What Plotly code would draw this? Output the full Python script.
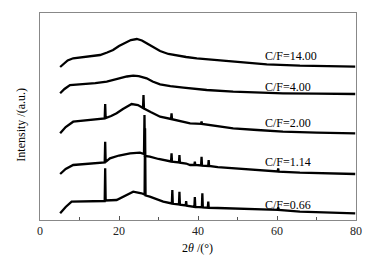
import plotly.graph_objects as go

# XRD patterns, stacked (intensity offsets already included), a.u.
x_1400 = [5.1, 6, 7, 8.4, 11, 13, 15.2, 17, 18.5, 20, 21.9, 23, 24.5, 25.8, 27, 28.5, 30.4,
          32.5, 34.6, 37, 39.7, 43, 48.9, 53, 57.4, 65.8, 72, 79.8]
y_1400 = [153, 156, 159.5, 161.7, 163, 163.5, 165, 167.5, 170, 174, 178, 180, 181, 179.5, 176.7,
          173, 169, 166, 164.3, 163, 161.7, 160.7, 159, 157.3, 155.7, 154.3, 153.8, 153.3]

x_400 = [5.1, 6.2, 7.6, 11, 14, 16.9, 18.5, 20.3, 22, 23.6, 25, 27, 28.5, 30.4, 33, 36.3, 42.2,
         48.9, 55, 61.5, 70, 79.8]
y_400 = [126.7, 131, 135, 135.7, 136.8, 138.3, 140, 141.7, 143.5, 144.3, 143.8, 141.7, 138.5,
         135.7, 133.8, 132.3, 130, 128.3, 127.5, 126.7, 126.3, 126]

x_200 = [5.1, 6.5, 8.4, 11, 13.5, 16.38, 16.5, 16.62, 18, 19.4, 21, 23.2, 24.8, 26.08, 26.2, 26.32,
         28, 30.4, 33.18, 33.3, 33.42, 35.5, 38, 40.78, 40.9, 41.02, 43, 48.9, 55, 61.5, 70, 79.8]
y_200 = [86.7, 93, 98.3, 99.3, 100, 101.5, 116, 102, 104, 106.7, 111, 116, 115, 112, 125, 111.5,
         108, 103.3, 101, 106.7, 100.8, 99, 96.7, 96.2, 98.5, 96, 95, 91.7, 90, 88.3, 87.3, 86.7]

x_114 = [5.1, 6.5, 8.4, 11, 14.3, 16.38, 16.5, 16.62, 17.7, 20, 22.8, 25.3, 26.33, 26.45, 26.57,
         27.8, 30, 31.2, 33.18, 33.3, 33.42, 35.18, 35.3, 35.42, 37, 38, 39.08, 39.2, 39.32, 40.78,
         40.9, 41.02, 42.58, 42.7, 42.82, 45, 48.9, 55, 60.18, 60.3, 60.42, 65.8, 72, 79.8]
y_114 = [46, 51, 55, 56, 56.7, 57.5, 78.3, 58, 61.7, 64.5, 66.7, 67.3, 66, 105, 64,
         63.3, 61, 60, 58.5, 66.7, 58.3, 57.5, 65, 57.3, 56.5, 55, 55, 58.3, 55, 54.5,
         63.3, 54.3, 54, 60, 54, 52.8, 51.7, 50, 48.5, 51.7, 48.3, 47.3, 46.5, 46]

x_066 = [5.1, 6.5, 8, 11, 14.3, 16.38, 16.5, 16.62, 19.4, 21.5, 23.6, 25.7, 26.48, 26.6, 26.72,
         27.8, 30, 31.2, 33.38, 33.5, 33.62, 35.18, 35.3, 35.42, 36.88, 37, 37.12, 38, 39.08, 39.2,
         39.32, 40.98, 41.1, 41.22, 42.48, 42.6, 42.72, 45, 48.9, 55, 60.18, 60.3, 60.42, 65.8, 72, 79.8]
y_066 = [6.7, 13, 18.3, 18.3, 18.3, 19, 51.7, 19.5, 20, 24, 28.3, 26.7, 25.5, 91.7, 24.5,
         23.3, 20, 18.3, 16.5, 30, 16.2, 15.5, 28.3, 15.3, 14.5, 19, 14.3, 13.5, 13, 23,
         13, 12.8, 26.7, 12.6, 12.3, 18.3, 12.2, 12, 11.7, 11, 10.2, 12.5, 10, 8.3, 7.3, 6.7]

labels = ["C/F=14.00", "C/F=4.00", "C/F=2.00", "C/F=1.14", "C/F=0.66"]
label_y = [164, 133.3, 97.3, 57.7, 15]
label_x = 56.5

SERIF = "Liberation Serif"

fig = go.Figure()
for xs, ys, name in zip([x_1400, x_400, x_200, x_114, x_066],
                        [y_1400, y_400, y_200, y_114, y_066], labels):
    fig.add_trace(go.Scatter(x=xs, y=ys, mode="lines", name=name,
                             line={"color": "black", "width": 2.3}))

for txt, ly in zip(labels, label_y):
    fig.add_annotation(x=label_x, y=ly, text=txt, showarrow=False, xanchor="left",
                       yanchor="middle", font={"family": SERIF, "size": 12, "color": "black"})

fig.add_annotation(xref="paper", yref="paper", x=-0.063, y=0.461, text="Intensity /(a.u.)",
                   textangle=-90, showarrow=False, xanchor="center", yanchor="middle",
                   font={"family": SERIF, "size": 12, "color": "black"})
fig.add_annotation(xref="paper", yref="paper", x=0.497, y=-0.135, text="2<i>θ</i> /(°)",
                   showarrow=False, xanchor="center", yanchor="middle",
                   font={"family": SERIF, "size": 12, "color": "black"})

fig.update_layout(
    width=386, height=259,
    margin={"l": 40, "r": 30, "t": 13, "b": 39},
    plot_bgcolor="white", paper_bgcolor="white",
    showlegend=False,
    font={"family": SERIF, "size": 12, "color": "#222"},
    xaxis={"range": [0, 80], "tickvals": [0, 20, 40, 60, 80], "ticks": "inside",
           "ticklen": 4, "tickcolor": "#555", "showline": True, "linecolor": "#888",
           "linewidth": 1, "mirror": True, "showgrid": False, "zeroline": False,
           "minor": {"ticks": "inside", "dtick": 10, "tick0": 0, "ticklen": 3,
                     "tickcolor": "#555", "showgrid": False}},
    yaxis={"range": [0, 207], "showticklabels": False, "ticks": "", "showline": True,
           "linecolor": "#888", "linewidth": 1, "mirror": True, "showgrid": False,
           "zeroline": False},
)

fig.write_html("out.html", config={"displayModeBar": False},
               post_script="document.body.style.margin='0';")
